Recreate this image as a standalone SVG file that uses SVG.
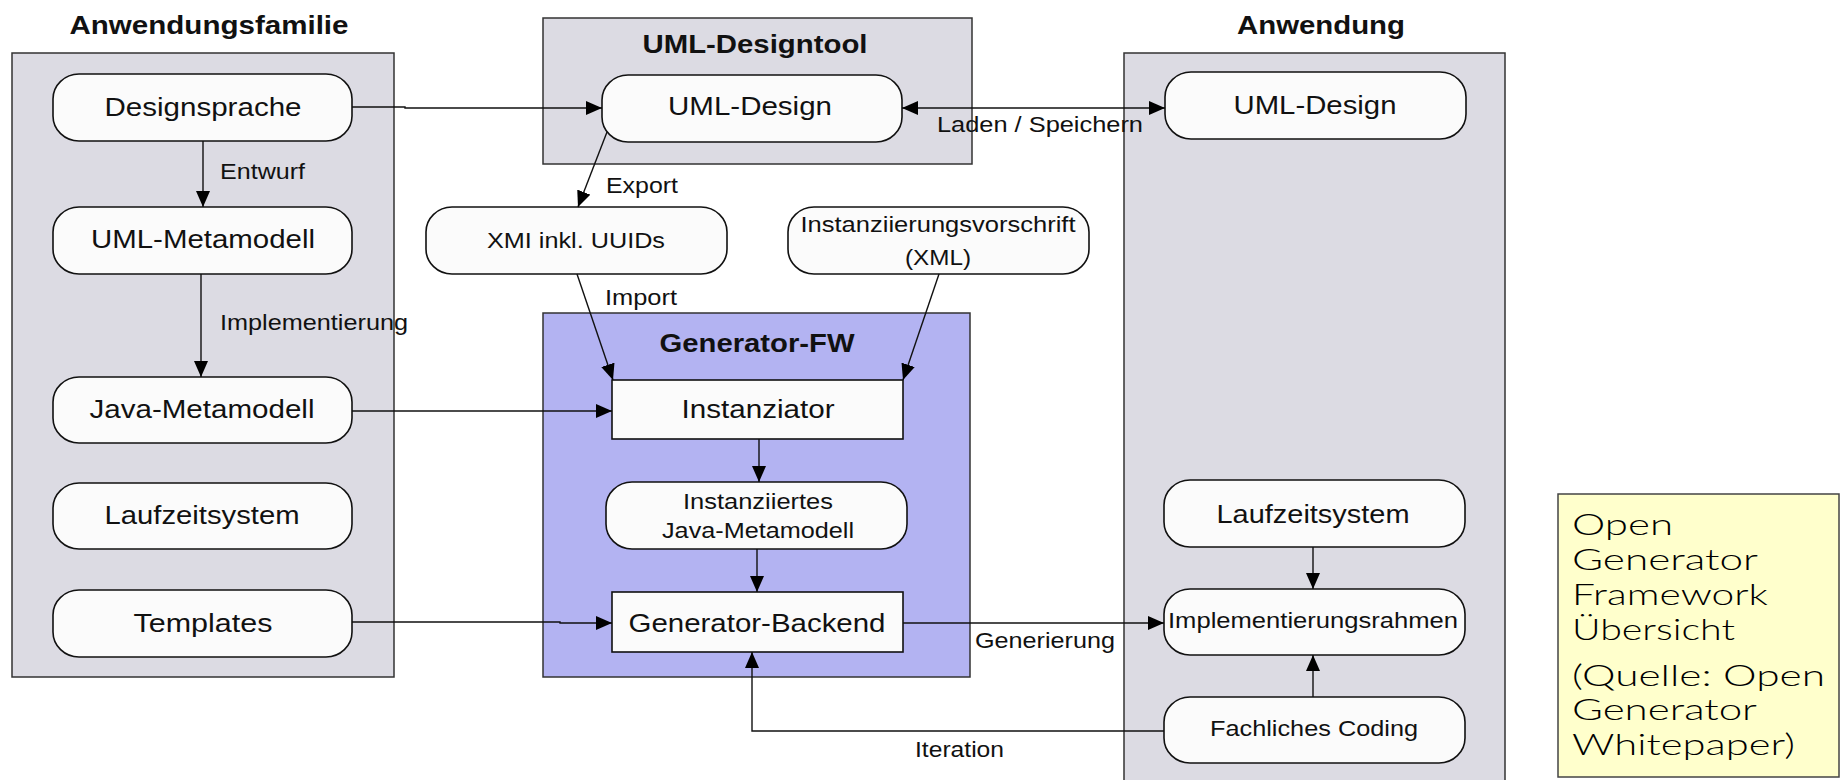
<svg xmlns="http://www.w3.org/2000/svg" width="1841" height="780" viewBox="0 0 1841 780">
<defs>
<style>
.panel{fill:#DCDBE3;stroke:#333;stroke-width:1.5}
.panelB{fill:#B3B3F2;stroke:#333;stroke-width:1.5}
.pill{fill:#FBFBFB;stroke:#111;stroke-width:1.6}
.box{fill:#FBFBFB;stroke:#111;stroke-width:1.6}
.t{font-family:"Liberation Sans",Arial,sans-serif;fill:#111;text-anchor:middle}
.n26{font-size:26px}
.n22{font-size:22px}
.title{font-size:25px;font-weight:bold}
.lbl{font-family:"Liberation Sans",Arial,sans-serif;fill:#111;font-size:21.5px}
.c{fill:none;stroke:#111;stroke-width:1.4}
.note{fill:#FFFFCC;stroke:#444;stroke-width:1.5}
.nt{font-family:Lato,"Liberation Sans",sans-serif;font-weight:300;font-size:29.5px;fill:#000}
</style>
<marker id="ah" viewBox="0 0 16 14" refX="16" refY="7" markerWidth="16" markerHeight="14" markerUnits="userSpaceOnUse" orient="auto-start-reverse">
<path d="M0,0 L16,7 L0,14 z" fill="#000"/>
</marker>
</defs>
<rect width="1841" height="780" fill="#fff"/>

<g id="panel-anwendungsfamilie">
<rect class="panel" x="12" y="53" width="382" height="624"/>
<text class="t title" x="209" y="34" textLength="279" lengthAdjust="spacingAndGlyphs">Anwendungsfamilie</text>
</g>
<g id="panel-umldesigntool">
<rect class="panel" x="543" y="18" width="429" height="146"/>
<text class="t title" x="755" y="53" textLength="225" lengthAdjust="spacingAndGlyphs">UML-Designtool</text>
</g>
<g id="panel-generatorfw">
<rect class="panelB" x="543" y="313" width="427" height="364"/>
<text class="t title" x="757" y="352" textLength="195" lengthAdjust="spacingAndGlyphs">Generator-FW</text>
</g>
<g id="panel-anwendung">
<rect class="panel" x="1124" y="53" width="381" height="740"/>
<text class="t title" x="1321" y="34" textLength="168" lengthAdjust="spacingAndGlyphs">Anwendung</text>
</g>

<g id="node-designsprache">
<rect class="pill" x="53" y="74" width="299" height="67" rx="26" ry="25"/>
<text class="t n26" x="203" y="116" textLength="197" lengthAdjust="spacingAndGlyphs">Designsprache</text>
</g>
<g id="node-uml-metamodell">
<rect class="pill" x="53" y="207" width="299" height="67" rx="26" ry="25"/>
<text class="t n26" x="203" y="248" textLength="224" lengthAdjust="spacingAndGlyphs">UML-Metamodell</text>
</g>
<g id="node-java-metamodell">
<rect class="pill" x="53" y="377" width="299" height="66" rx="26" ry="25"/>
<text class="t n26" x="202" y="418" textLength="225" lengthAdjust="spacingAndGlyphs">Java-Metamodell</text>
</g>
<g id="node-laufzeitsystem-l">
<rect class="pill" x="53" y="483" width="299" height="66" rx="26" ry="25"/>
<text class="t n26" x="202" y="524" textLength="195" lengthAdjust="spacingAndGlyphs">Laufzeitsystem</text>
</g>
<g id="node-templates">
<rect class="pill" x="53" y="590" width="299" height="67" rx="26" ry="25"/>
<text class="t n26" x="203" y="632" textLength="139" lengthAdjust="spacingAndGlyphs">Templates</text>
</g>

<g id="node-uml-design">
<rect class="pill" x="602" y="75" width="300" height="67" rx="26" ry="25"/>
<text class="t n26" x="750" y="115" textLength="164" lengthAdjust="spacingAndGlyphs">UML-Design</text>
</g>
<g id="node-xmi">
<rect class="pill" x="426" y="207" width="301" height="67" rx="26" ry="25"/>
<text class="t n22" x="576" y="248" textLength="178" lengthAdjust="spacingAndGlyphs">XMI inkl. UUIDs</text>
</g>
<g id="node-instanzvorschrift">
<rect class="pill" x="788" y="207" width="301" height="67" rx="26" ry="25"/>
<text class="t n22" x="938" y="232" textLength="275" lengthAdjust="spacingAndGlyphs">Instanziierungsvorschrift</text>
<text class="t n22" x="938" y="265" textLength="66" lengthAdjust="spacingAndGlyphs">(XML)</text>
</g>
<g id="node-instanziator">
<rect class="box" x="612" y="380" width="291" height="59"/>
<text class="t n26" x="758" y="418" textLength="153" lengthAdjust="spacingAndGlyphs">Instanziator</text>
</g>
<g id="node-instanziiertes">
<rect class="pill" x="606" y="482" width="301" height="67" rx="26" ry="25"/>
<text class="t n22" x="758" y="509" textLength="150" lengthAdjust="spacingAndGlyphs">Instanziiertes</text>
<text class="t n22" x="758" y="538" textLength="192" lengthAdjust="spacingAndGlyphs">Java-Metamodell</text>
</g>
<g id="node-generator-backend">
<rect class="box" x="612" y="592" width="291" height="60"/>
<text class="t n26" x="757" y="632" textLength="257" lengthAdjust="spacingAndGlyphs">Generator-Backend</text>
</g>

<g id="node-uml-design-r">
<rect class="pill" x="1165" y="72" width="301" height="67" rx="26" ry="25"/>
<text class="t n26" x="1315" y="114" textLength="163" lengthAdjust="spacingAndGlyphs">UML-Design</text>
</g>
<g id="node-laufzeitsystem-r">
<rect class="pill" x="1164" y="480" width="301" height="67" rx="26" ry="25"/>
<text class="t n26" x="1313" y="523" textLength="193" lengthAdjust="spacingAndGlyphs">Laufzeitsystem</text>
</g>
<g id="node-implementierungsrahmen">
<rect class="pill" x="1164" y="589" width="301" height="66" rx="26" ry="25"/>
<text class="t n22" x="1313" y="628" textLength="290" lengthAdjust="spacingAndGlyphs">Implementierungsrahmen</text>
</g>
<g id="node-fachliches-coding">
<rect class="pill" x="1164" y="697" width="301" height="66" rx="26" ry="25"/>
<text class="t n22" x="1314" y="736" textLength="208" lengthAdjust="spacingAndGlyphs">Fachliches Coding</text>
</g>

<g id="note">
<rect class="note" x="1558" y="494" width="281" height="283"/>
<text class="nt" x="1572" y="535" textLength="101" lengthAdjust="spacingAndGlyphs">Open</text>
<text class="nt" x="1572" y="570" textLength="186" lengthAdjust="spacingAndGlyphs">Generator</text>
<text class="nt" x="1572" y="605" textLength="196" lengthAdjust="spacingAndGlyphs">Framework</text>
<text class="nt" x="1572" y="640" textLength="163" lengthAdjust="spacingAndGlyphs">Übersicht</text>
<text class="nt" x="1572" y="686" textLength="253" lengthAdjust="spacingAndGlyphs">(Quelle: Open</text>
<text class="nt" x="1572" y="720" textLength="185" lengthAdjust="spacingAndGlyphs">Generator</text>
<text class="nt" x="1572" y="755" textLength="223" lengthAdjust="spacingAndGlyphs">Whitepaper)</text>
</g>

<g id="connectors">
<path class="c" d="M352,107 H405 V108 H602" marker-end="url(#ah)"/>
<path class="c" d="M203,141 V207" marker-end="url(#ah)"/>
<path class="c" d="M201,274 V377" marker-end="url(#ah)"/>
<path class="c" d="M902,108 H1165" marker-start="url(#ah)" marker-end="url(#ah)"/>
<path class="c" d="M607,132 L578,207" marker-end="url(#ah)"/>
<path class="c" d="M577,274 L613,380" marker-end="url(#ah)"/>
<path class="c" d="M939,274 L903,380" marker-end="url(#ah)"/>
<path class="c" d="M352,411 H612" marker-end="url(#ah)"/>
<path class="c" d="M759,439 V482" marker-end="url(#ah)"/>
<path class="c" d="M757,549 V592" marker-end="url(#ah)"/>
<path class="c" d="M352,622 H560 V623 H612" marker-end="url(#ah)"/>
<path class="c" d="M903,623 H1164" marker-end="url(#ah)"/>
<path class="c" d="M1164,731 H752 V652" marker-end="url(#ah)"/>
<path class="c" d="M1313,547 V589" marker-end="url(#ah)"/>
<path class="c" d="M1313,697 V655" marker-end="url(#ah)"/>
<text class="lbl" x="220" y="179" textLength="85" lengthAdjust="spacingAndGlyphs">Entwurf</text>
<text class="lbl" x="220" y="330" textLength="188" lengthAdjust="spacingAndGlyphs">Implementierung</text>
<text class="lbl" x="606" y="193" textLength="72" lengthAdjust="spacingAndGlyphs">Export</text>
<text class="lbl" x="605" y="305" textLength="72" lengthAdjust="spacingAndGlyphs">Import</text>
<text class="lbl" x="937" y="132" textLength="206" lengthAdjust="spacingAndGlyphs">Laden / Speichern</text>
<text class="lbl" x="975" y="648" textLength="140" lengthAdjust="spacingAndGlyphs">Generierung</text>
<text class="lbl" x="915" y="757" textLength="89" lengthAdjust="spacingAndGlyphs">Iteration</text>
</g>
</svg>
